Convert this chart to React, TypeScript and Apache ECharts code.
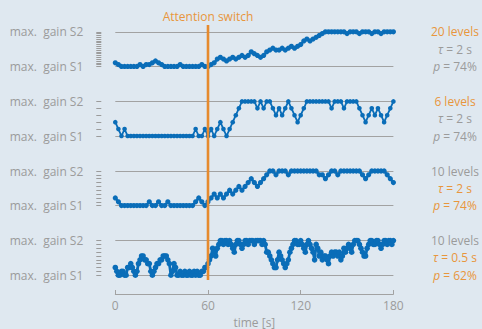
import React, { useEffect, useRef } from 'react';
import * as echarts from 'echarts';

// ---------- data ----------
const LEVEL_COUNTS = [20, 6, 10, 10];
const SAMPLE_STEP_S = [2, 2, 2, 1];

// panel 1: 20 levels, tau = 2 s (t = 0..180 step 2)
const GAIN_20_LEVELS = [
  2, 1, 0, 0, 0, 0, 0, 0, 1, 0,
  1, 1, 2, 3, 2, 1, 0, 0, 0, 0,
  0, 1, 0, 0, 0, 0, 0, 0, 1, 0,
  0, 1, 2, 4, 5, 4, 3, 4, 5, 4,
  5, 6, 5, 6, 8, 7, 6, 5, 6, 8,
  9, 10, 9, 9, 10, 9, 10, 11, 10, 11,
  12, 14, 15, 14, 15, 16, 17, 18, 19, 19,
  19, 19, 19, 19, 19, 18, 19, 19, 19, 18,
  19, 19, 19, 18, 19, 19, 18, 19, 19, 19,
  19,
];

// panel 2: 6 levels, tau = 2 s
const GAIN_6_LEVELS = [
  2, 1, 0, 1, 0, 0, 0, 0, 0, 0,
  0, 0, 0, 0, 0, 0, 0, 0, 0, 0,
  0, 0, 0, 0, 0, 0, 1, 0, 0, 1,
  0, 1, 0, 1, 2, 1, 0, 1, 2, 3,
  4, 5, 5, 5, 5, 5, 4, 5, 4, 5,
  5, 4, 3, 4, 3, 4, 5, 4, 3, 2,
  3, 4, 5, 5, 5, 5, 5, 5, 5, 5,
  4, 5, 5, 5, 4, 5, 5, 5, 5, 4,
  3, 2, 3, 4, 3, 4, 3, 2, 3, 4,
  5,
];

// panel 3: 10 levels, tau = 2 s
const GAIN_10_LEVELS_SLOW = [
  2, 1, 0, 0, 0, 0, 0, 0, 0, 0,
  0, 1, 0, 0, 1, 0, 0, 1, 0, 0,
  0, 0, 0, 0, 0, 0, 1, 2, 1, 0,
  1, 2, 3, 2, 3, 2, 3, 4, 3, 4,
  5, 4, 5, 6, 7, 6, 5, 6, 7, 8,
  9, 9, 8, 9, 9, 9, 8, 9, 9, 9,
  9, 9, 9, 9, 9, 9, 8, 8, 7, 8,
  9, 9, 8, 9, 9, 9, 9, 9, 9, 9,
  8, 7, 8, 9, 9, 9, 9, 9, 8, 7,
  6,
];

// panel 4: 10 levels, tau = 0.5 s (t = 0..180 step 1)
const GAIN_10_LEVELS_FAST = [
  2, 1, 0, 0, 1, 1, 0, 0, 2, 2,
  3, 2, 1, 0, 1, 3, 4, 5, 5, 4,
  4, 3, 3, 1, 0, 1, 2, 3, 3, 4,
  4, 5, 5, 5, 4, 3, 0, 1, 3, 2,
  0, 0, 1, 0, 0, 1, 0, 0, 1, 0,
  0, 1, 0, 1, 0, 0, 1, 1, 2, 2,
  3, 4, 5, 7, 6, 5, 7, 8, 9, 9,
  8, 9, 9, 8, 9, 8, 7, 6, 8, 9,
  9, 8, 7, 8, 9, 9, 8, 9, 9, 9,
  8, 9, 9, 9, 9, 8, 9, 8, 6, 6,
  5, 4, 3, 2, 2, 4, 6, 5, 4, 3,
  2, 3, 4, 6, 7, 8, 9, 9, 8, 8,
  9, 8, 7, 6, 8, 9, 8, 7, 6, 4,
  8, 7, 5, 6, 4, 5, 5, 4, 3, 5,
  6, 5, 6, 6, 5, 6, 4, 5, 7, 6,
  7, 8, 7, 6, 8, 9, 9, 9, 8, 7,
  6, 5, 5, 7, 8, 9, 9, 8, 8, 9,
  9, 8, 7, 8, 9, 9, 8, 9, 9, 8,
  9,
];

const PANEL_VALUES = [GAIN_20_LEVELS, GAIN_6_LEVELS, GAIN_10_LEVELS_SLOW, GAIN_10_LEVELS_FAST];

const LEVEL_LABELS = ['20 levels', '6 levels', '10 levels', '10 levels'];
const TAU_LABELS = ['2 s', '2 s', '2 s', '0.5 s'];
const P_LABELS = ['74%', '74%', '74%', '62%'];
// which of [levels, tau, p] is highlighted
const HIGHLIGHT = [
  [true, false, false],
  [true, false, false],
  [false, true, true],
  [false, true, true],
];
const Y_LABELS = ['max.\u00a0\u00a0gain S1', 'max.\u00a0\u00a0gain S2'];
const X_MIN = 0;
const X_MAX = 180;
const X_TICK_INTERVAL = 60;
const SWITCH_TIME = 60;
const SWITCH_LABEL = 'Attention switch';
const X_NAME = 'time [s]';

// ---------- style ----------
const BG = '#dfe8f0';
const BLUE = '#0a6db8';
const ORANGE = '#e68a2e';
const ORANGE_TEXT = '#e8963c';
const GRAY_TEXT = '#9b9b9b';
const GRAY_LINE = '#a2a2a2';
const FONT = '"Open Sans", "DejaVu Sans", sans-serif';

const GRID_LEFT = 115.3;
const GRID_WIDTH = 278.1;
const GRID_TOPS = [31.8, 101.4, 171.0, 240.6];
const GRID_H = 34.6;
const SYMBOL_SIZES = [5.2, 4.6, 5.2, 5.6];
const LINE_WIDTHS = [2.4, 1.8, 2.4, 2.8];

export default function App() {
  const ref = useRef<HTMLDivElement>(null);

  useEffect(() => {
    document.body.style.margin = '0';
    const el = ref.current!;
    const chart = echarts.init(el, undefined, { renderer: 'svg' });

    const grids = GRID_TOPS.map((top) => ({
      left: GRID_LEFT,
      top,
      width: GRID_WIDTH,
      height: GRID_H,
    }));

    const xAxes = GRID_TOPS.map((_, i) => {
      const last = i === GRID_TOPS.length - 1;
      return {
        type: 'value',
        gridIndex: i,
        min: X_MIN,
        max: X_MAX,
        interval: X_TICK_INTERVAL,
        show: last,
        offset: last ? 18.8 : 0,
        name: last ? X_NAME : '',
        nameLocation: 'middle',
        nameGap: 22,
        nameTextStyle: { color: GRAY_TEXT, fontSize: 12, fontFamily: FONT },
        axisLine: { show: true, onZero: false, lineStyle: { color: GRAY_LINE, width: 1 } },
        axisTick: { show: true, inside: true, length: 4, lineStyle: { color: GRAY_LINE } },
        axisLabel: { color: GRAY_TEXT, fontSize: 12, fontFamily: FONT, margin: 5 },
        splitLine: { show: false },
      };
    });

    const yAxes: any[] = [];
    LEVEL_COUNTS.forEach((n, i) => {
      yAxes.push({
        type: 'value',
        gridIndex: i,
        position: 'left',
        min: 0,
        max: n - 1,
        interval: n - 1,
        axisLine: { show: false },
        axisTick: { show: false },
        axisLabel: {
          color: GRAY_TEXT,
          fontSize: 12,
          fontFamily: FONT,
          margin: 32,
          formatter: (v: number) => (v === 0 ? Y_LABELS[0] : Y_LABELS[1]),
        },
        splitLine: { show: true, lineStyle: { color: GRAY_LINE, width: 1 } },
      });
      yAxes.push({
        type: 'value',
        gridIndex: i,
        position: 'left',
        min: 0,
        max: n - 1,
        interval: 1,
        offset: 14,
        axisLine: { show: false },
        axisTick: { show: true, length: 5, lineStyle: { color: GRAY_TEXT, width: 1 } },
        axisLabel: { show: false },
        splitLine: { show: false },
      });
    });

    const series = PANEL_VALUES.map((vals, i) => ({
      type: 'line',
      xAxisIndex: i,
      yAxisIndex: 2 * i,
      data: vals.map((v, k) => [k * SAMPLE_STEP_S[i], v]),
      symbol: 'circle',
      symbolSize: SYMBOL_SIZES[i],
      showSymbol: true,
      showAllSymbol: true,
      lineStyle: { color: BLUE, width: LINE_WIDTHS[i] },
      itemStyle: { color: BLUE },
      silent: true,
      z: 3,
    }));

    const texts: any[] = [];
    GRID_TOPS.forEach((top, i) => {
      const hl = HIGHLIGHT[i];
      const c = (h: boolean) => (h ? ORANGE_TEXT : GRAY_TEXT);
      texts.push({
        type: 'text',
        x: 455,
        y: top,
        style: {
          text: LEVEL_LABELS[i],
          fill: c(hl[0]),
          font: `12px ${FONT}`,
          align: 'center',
          verticalAlign: 'middle',
        },
      });
      texts.push({
        type: 'text',
        x: 455,
        y: top + GRID_H / 2,
        style: {
          text: `{i|τ} = ${TAU_LABELS[i]}`,
          fill: c(hl[1]),
          font: `12px ${FONT}`,
          align: 'center',
          verticalAlign: 'middle',
          rich: { i: { fontStyle: 'italic', fill: c(hl[1]), fontSize: 12, fontFamily: FONT } },
        },
      });
      texts.push({
        type: 'text',
        x: 455,
        y: top + GRID_H,
        style: {
          text: `{i|p} = ${P_LABELS[i]}`,
          fill: c(hl[2]),
          font: `12px ${FONT}`,
          align: 'center',
          verticalAlign: 'middle',
          rich: { i: { fontStyle: 'italic', fill: c(hl[2]), fontSize: 12, fontFamily: FONT } },
        },
      });
    });

    chart.setOption({
      animation: false,
      backgroundColor: BG,
      grid: grids,
      xAxis: xAxes,
      yAxis: yAxes,
      series,
      graphic: texts,
    });

    const px = chart.convertToPixel({ xAxisIndex: 0 }, SWITCH_TIME) as number;
    chart.setOption({
      graphic: [
        ...texts,
        {
          type: 'line',
          z: 100,
          shape: { x1: px, y1: 25, x2: px, y2: 280 },
          style: { stroke: ORANGE, lineWidth: 2.6 },
        },
        {
          type: 'text',
          z: 100,
          x: px,
          y: 16,
          style: {
            text: SWITCH_LABEL,
            fill: ORANGE_TEXT,
            font: `12px ${FONT}`,
            align: 'center',
            verticalAlign: 'middle',
          },
        },
      ],
    });

    return () => chart.dispose();
  }, []);

  return (
    <div
      ref={ref}
      style={{ position: 'absolute', left: 0, top: 0, width: 482, height: 329, background: BG }}
    />
  );
}
